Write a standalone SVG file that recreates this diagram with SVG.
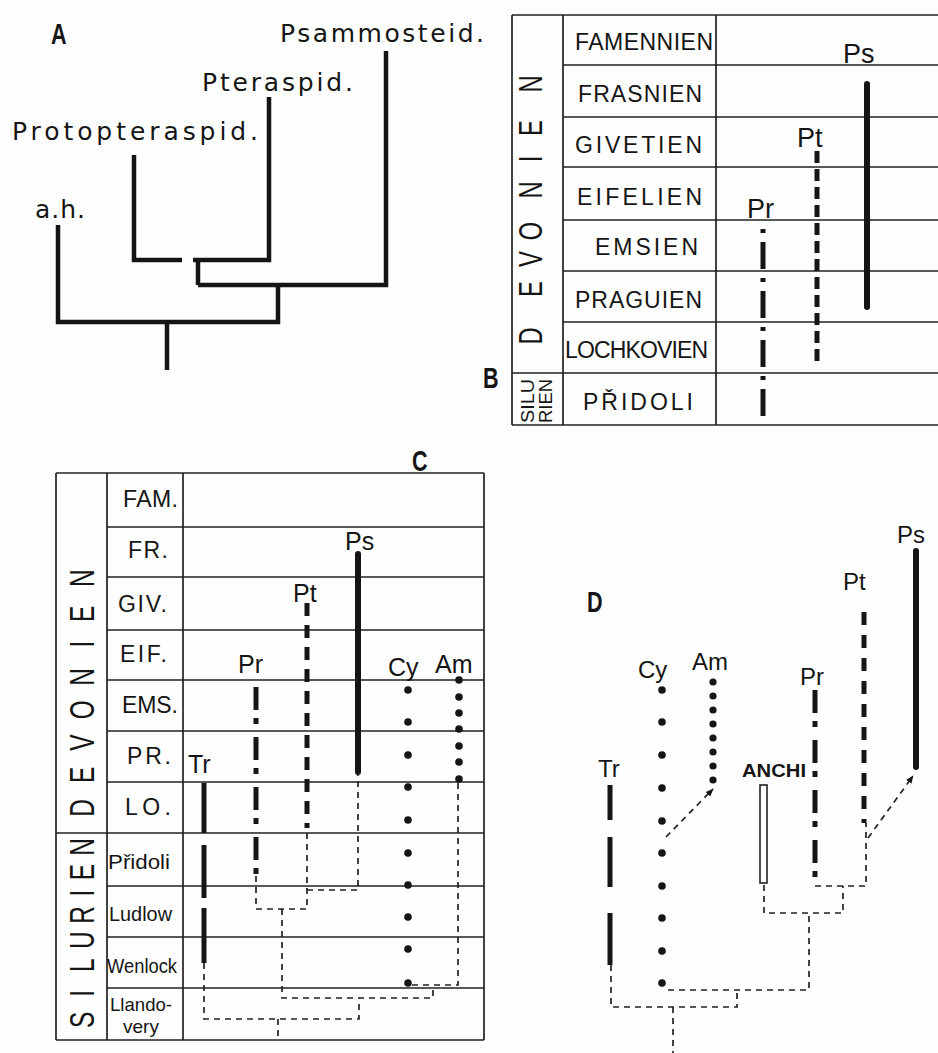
<svg xmlns="http://www.w3.org/2000/svg" width="938" height="1053" viewBox="0 0 938 1053">
<defs>
<style>
.t{font-family:"Liberation Sans",Arial,sans-serif;fill:#151515}
.ta{font-family:"DejaVu Sans","Liberation Sans",sans-serif;fill:#151515;font-size:25px}
.pl{font-family:"Liberation Sans",Arial,sans-serif;font-weight:bold;fill:#151515;font-size:30px}
.g{stroke:#222;stroke-width:1.7;fill:none}
.tree{stroke:#151515;stroke-width:4.5;fill:none;stroke-linejoin:miter}
.sol{stroke:#151515;stroke-width:6;stroke-linecap:round;fill:none}
.dsh{stroke:#151515;stroke-width:5;fill:none}
.thin{stroke:#222;stroke-width:1.7;stroke-dasharray:6 5;fill:none}
.dot{fill:#151515}
</style>
<marker id="ah" viewBox="0 0 10 10" refX="9" refY="5" markerWidth="8" markerHeight="8" orient="auto" markerUnits="userSpaceOnUse">
<path d="M0,1 L10,5 L0,9 Z" fill="#151515"/>
</marker>
</defs>
<rect width="938" height="1053" fill="#fefefe"/>

<!-- Panel A -->
<g id="panelA">
<text class="pl" transform="translate(51,44) scale(0.72,1)">A</text>
<g id="A-tree">
<path class="tree" d="M58,225 V322 H278 V285"/>
<path class="tree" d="M167,322 V370"/>
<path class="tree" d="M198,285 H386 V51"/>
<path class="tree" d="M198,285 V260"/>
<path class="tree" d="M193,260 H269 V97"/>
<path class="tree" d="M134,155 V260 H182"/>
</g>
<g id="A-psammosteid"><text class="ta" x="280" y="42" textLength="204" lengthAdjust="spacing">Psammosteid.</text></g>
<g id="A-pteraspid"><text class="ta" x="202" y="91" textLength="151" lengthAdjust="spacing">Pteraspid.</text></g>
<g id="A-protopteraspid"><text class="ta" x="12" y="140" textLength="246" lengthAdjust="spacing">Protopteraspid.</text></g>
<g id="A-ah"><text class="ta" x="35" y="218" textLength="50" lengthAdjust="spacing">a.h.</text></g>
</g>

<!-- Panel B -->
<g id="panelB">
<text class="pl" transform="translate(483,388) scale(0.72,1)">B</text>
<g id="B-grid">
<path class="g" d="M512,15 V425 M563,15 V425 M716,15 V425 M512,15 H938 M563,65 H938 M563,117 H938 M563,167 H938 M563,220 H938 M563,271 H938 M563,322 H938 M512,373 H938 M512,425 H938"/>
</g>
<g id="B-eras">
<text class="t" font-size="33" text-anchor="middle" transform="translate(542,0) rotate(-90) scale(0.72,1)" x="-466.7 -401.4 -359.7 -320.8 -263.9 -220.8 -177.8 -116.7">DEVONIEN</text>
<text class="t" font-size="19" transform="translate(534,423) rotate(-90)" x="0" textLength="44" lengthAdjust="spacingAndGlyphs">SILU</text>
<text class="t" font-size="19" transform="translate(552,423) rotate(-90)" x="0" textLength="44" lengthAdjust="spacingAndGlyphs">RIEN</text>
</g>
<g id="B-stages" font-size="23">
<text class="t" x="575" y="50" textLength="138" lengthAdjust="spacing">FAMENNIEN</text>
<text class="t" x="578" y="102" textLength="124" lengthAdjust="spacing">FRASNIEN</text>
<text class="t" x="575" y="153" textLength="127" lengthAdjust="spacing">GIVETIEN</text>
<text class="t" x="577" y="205" textLength="125" lengthAdjust="spacing">EIFELIEN</text>
<text class="t" x="595" y="255" textLength="103" lengthAdjust="spacing">EMSIEN</text>
<text class="t" x="575" y="308" textLength="127" lengthAdjust="spacing">PRAGUIEN</text>
<text class="t" x="565" y="358" textLength="143" lengthAdjust="spacing">LOCHKOVIEN</text>
<text class="t" x="583" y="410" textLength="110" lengthAdjust="spacing">PŘIDOLI</text>
</g>
<g id="B-Ps">
<text class="t" x="843" y="63" font-size="27">Ps</text>
<line class="sol" x1="867" y1="84" x2="867" y2="307"/>
</g>
<g id="B-Pt">
<text class="t" x="797" y="147" font-size="27">Pt</text>
<line class="dsh" x1="817" y1="151" x2="817" y2="366" stroke-dasharray="12 6"/>
</g>
<g id="B-Pr">
<text class="t" x="747" y="218" font-size="27">Pr</text>
<line class="dsh" stroke-width="6" x1="763" y1="229" x2="763" y2="417" stroke-dasharray="4 9 27 9"/>
</g>
</g>

<!-- Panel C -->
<g id="panelC">
<text class="pl" transform="translate(412,471) scale(0.72,1)">C</text>
<g id="C-grid">
<path class="g" d="M56,473 V1040 M107,473 V1040 M183,473 V1040 M484,473 V1040 M56,473 H484 M56,1040 H484 M107,527 H484 M107,577 H484 M107,630 H484 M107,680 H484 M107,731 H484 M107,782 H484 M56,833 H484 M107,886 H484 M107,937 H484 M107,988 H484"/>
</g>
<g id="C-eras">
<text class="t" font-size="35" text-anchor="middle" transform="translate(94,0) rotate(-90) scale(0.7,1)" x="-1154 -1107 -1061 -1014 -967 -920 -877 -826">DEVONIEN</text>
<text class="t" font-size="35" text-anchor="middle" transform="translate(94,0) rotate(-90) scale(0.7,1)" x="-1457 -1419 -1379 -1343 -1307 -1276 -1246 -1210">SILURIEN</text>
</g>
<g id="C-stages" font-size="23">
<text class="t" x="123" y="507" textLength="55" lengthAdjust="spacing">FAM.</text>
<text class="t" x="128" y="558" textLength="40" lengthAdjust="spacing">FR.</text>
<text class="t" x="118" y="612" textLength="49" lengthAdjust="spacing">GIV.</text>
<text class="t" x="120" y="662" textLength="47" lengthAdjust="spacing">EIF.</text>
<text class="t" x="122" y="713" textLength="56" lengthAdjust="spacing">EMS.</text>
<text class="t" x="127" y="764" textLength="44" lengthAdjust="spacing">PR.</text>
<text class="t" x="125" y="815" textLength="46" lengthAdjust="spacing">LO.</text>
<text class="t" x="108" y="869" font-size="20" textLength="62" lengthAdjust="spacingAndGlyphs">Přidoli</text>
<text class="t" x="109" y="921" font-size="20" textLength="63" lengthAdjust="spacingAndGlyphs">Ludlow</text>
<text class="t" x="107" y="973" font-size="20" textLength="70" lengthAdjust="spacingAndGlyphs">Wenlock</text>
<text class="t" x="110" y="1011" font-size="19" textLength="62" lengthAdjust="spacingAndGlyphs">Llando-</text>
<text class="t" x="123" y="1033" font-size="19" textLength="36" lengthAdjust="spacingAndGlyphs">very</text>
</g>
<g id="C-Tr">
<text class="t" x="188" y="773" font-size="25">Tr</text>
<path class="dsh" stroke-width="6" d="M204,783 V833 M204,845 V898 M204,908 V963"/>
</g>
<g id="C-Pr">
<text class="t" x="238" y="673" font-size="25">Pr</text>
<line class="dsh" stroke-width="6" x1="256" y1="687" x2="256" y2="874" stroke-dasharray="23 8 6 13"/>
</g>
<g id="C-Pt">
<text class="t" x="293" y="602" font-size="25">Pt</text>
<line class="dsh" x1="307" y1="603" x2="307" y2="828" stroke-dasharray="13 9"/>
</g>
<g id="C-Ps">
<text class="t" x="345" y="550" font-size="25">Ps</text>
<line class="sol" x1="358" y1="554" x2="358" y2="772"/>
</g>
<g id="C-Cy">
<text class="t" x="388" y="676" font-size="25">Cy</text>
<g class="dot"><circle cx="408" cy="690" r="3.8"/><circle cx="408" cy="722" r="3.8"/><circle cx="408" cy="755" r="3.8"/><circle cx="408" cy="787" r="3.8"/><circle cx="408" cy="820" r="3.8"/><circle cx="408" cy="853" r="3.8"/><circle cx="408" cy="885" r="3.8"/><circle cx="408" cy="917" r="3.8"/><circle cx="408" cy="949" r="3.8"/><circle cx="408" cy="983" r="3.8"/></g>
</g>
<g id="C-Am">
<text class="t" x="435" y="673" font-size="25">Am</text>
<g class="dot"><circle cx="459" cy="680" r="3.8"/><circle cx="459" cy="697" r="3.8"/><circle cx="459" cy="713" r="3.8"/><circle cx="459" cy="729" r="3.8"/><circle cx="459" cy="746" r="3.8"/><circle cx="459" cy="762" r="3.8"/><circle cx="459" cy="779" r="3.8"/></g>
</g>
<g id="C-connectors">
<path class="thin" d="M204,963 V1019 H359 V998"/>
<path class="thin" d="M278,1019 V1040"/>
<path class="thin" d="M282,909 V998 H433 V985"/>
<path class="thin" d="M412,985 H458 V782"/>
<path class="thin" d="M256,876 V909 H307 V828"/>
<path class="thin" d="M307,890 H358 V773"/>
</g>
</g>

<!-- Panel D -->
<g id="panelD">
<text class="pl" transform="translate(587,612) scale(0.72,1)">D</text>
<g id="D-Tr">
<text class="t" x="598" y="777" font-size="24">Tr</text>
<path class="dsh" stroke-width="6" d="M610,785 V820 M610,837 V887 M610,913 V965"/>
</g>
<g id="D-Cy">
<text class="t" x="638" y="678" font-size="24">Cy</text>
<g class="dot"><circle cx="662" cy="690" r="3.8"/><circle cx="662" cy="722" r="3.8"/><circle cx="662" cy="755" r="3.8"/><circle cx="662" cy="788" r="3.8"/><circle cx="662" cy="821" r="3.8"/><circle cx="662" cy="853" r="3.8"/><circle cx="662" cy="886" r="3.8"/><circle cx="662" cy="918" r="3.8"/><circle cx="662" cy="951" r="3.8"/><circle cx="662" cy="983" r="3.8"/></g>
</g>
<g id="D-Am">
<text class="t" x="692" y="670" font-size="24">Am</text>
<g class="dot"><circle cx="713" cy="682" r="3.6"/><circle cx="713" cy="696" r="3.6"/><circle cx="713" cy="710" r="3.6"/><circle cx="713" cy="724" r="3.6"/><circle cx="713" cy="738" r="3.6"/><circle cx="713" cy="752" r="3.6"/><circle cx="713" cy="766" r="3.6"/><circle cx="713" cy="780" r="3.6"/></g>
</g>
<g id="D-ANCHI">
<text class="t" x="742" y="777" font-size="19" font-weight="bold" textLength="64" lengthAdjust="spacingAndGlyphs">ANCHI</text>
<rect x="760" y="785" width="7" height="98" fill="none" stroke="#222" stroke-width="1.6"/>
</g>
<g id="D-Pr">
<text class="t" x="800" y="685" font-size="24">Pr</text>
<line class="dsh" stroke-width="6" x1="815" y1="690" x2="815" y2="885" stroke-dasharray="23 8 6 13"/>
</g>
<g id="D-Pt">
<text class="t" x="843" y="590" font-size="24">Pt</text>
<line class="dsh" x1="864" y1="612" x2="864" y2="823" stroke-dasharray="13 10"/>
</g>
<g id="D-Ps">
<text class="t" x="897" y="543" font-size="24">Ps</text>
<line class="sol" x1="916" y1="551" x2="916" y2="767"/>
</g>
<g id="D-connectors">
<path class="thin" d="M611,965 V1007 H737 V990"/>
<path class="thin" d="M673,1007 V1053"/>
<path class="thin" d="M668,990 H809 V913"/>
<path class="thin" d="M764,885 V913 H843 V886"/>
<path class="thin" d="M815,886 H866 V823"/>
<path class="thin" d="M666,837 L713,789" marker-end="url(#ah)"/>
<path class="thin" d="M868,838 L913,776" marker-end="url(#ah)"/>
</g>
</g>
</svg>
